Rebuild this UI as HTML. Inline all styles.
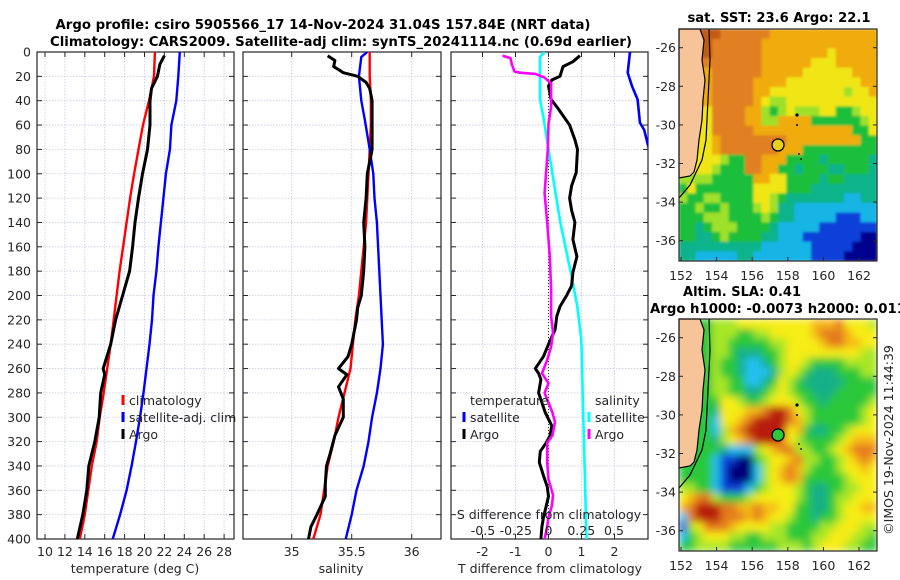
<!DOCTYPE html>
<html><head><meta charset="utf-8"><style>
html,body{margin:0;padding:0;background:#fff;}
svg{display:block;font-family:"DejaVu Sans","Liberation Sans",sans-serif;}
</style></head><body>
<svg id="fig" width="900" height="580" viewBox="0 0 900 580" xmlns="http://www.w3.org/2000/svg">
<text x="323" y="29" text-anchor="middle" font-weight="bold" font-size="13" textLength="535" lengthAdjust="spacingAndGlyphs" fill="#000">Argo profile: csiro 5905566_17 14-Nov-2024 31.04S 157.84E (NRT data)</text>
<text x="341" y="46" text-anchor="middle" font-weight="bold" font-size="13" textLength="582" lengthAdjust="spacingAndGlyphs" fill="#000">Climatology: CARS2009. Satellite-adj clim: synTS_20241114.nc (0.69d earlier)</text>
<g id="layer"></g>
</svg>
<script>
// ---------- panel 1: temperature ----------
const depthStd = [0,20,40,60,80,100,120,140,160,180,200,220,240,260,280,300,320,340,360,380,400];
const climT = [21.05,20.95,20.45,19.85,19.4,18.95,18.55,18.2,17.85,17.5,17.2,16.9,16.6,16.25,15.9,15.5,15.2,14.7,14.35,14.0,13.5];
const satT = [23.55,23.4,23.2,22.7,22.55,22.15,21.9,21.65,21.4,21.2,20.9,20.75,20.5,20.2,19.9,19.55,19.15,18.7,18.2,17.55,16.8];
const argoTDepth = [3,10,20,30,40,60,80,100,120,140,160,180,200,220,240,260,265,280,300,320,340,360,380,400];
const argoT = [22.0,21.55,21.3,20.7,20.55,20.55,20.3,19.8,19.4,19.05,18.8,18.5,17.8,17.1,16.6,15.85,16.0,15.6,15.45,15.0,14.4,14.2,13.8,13.25];
const tTicks = [10,12,14,16,18,20,22,24,26,28];
const depthTicks = [0,20,40,60,80,100,120,140,160,180,200,220,240,260,280,300,320,340,360,380,400];
// ---------- panel 2: salinity ----------
const climS = [35.65,35.65,35.66,35.66,35.65,35.64,35.63,35.62,35.6,35.58,35.56,35.53,35.51,35.49,35.44,35.39,35.35,35.3,35.27,35.24,35.18];
const satSDepth = [0,4,20,40,56,80,100,120,140,160,180,200,220,240,260,280,300,320,340,360,380,400];
const satS = [35.63,35.58,35.56,35.58,35.61,35.65,35.68,35.69,35.71,35.72,35.73,35.74,35.75,35.76,35.74,35.71,35.67,35.64,35.6,35.54,35.5,35.45];
const argoSDepth = [3,7,12,15,17,20,25,30,40,60,80,100,120,140,160,180,200,210,220,240,250,260,265,275,285,300,315,330,340,355,365,380,390,400];
const argoS = [35.3,35.36,35.35,35.4,35.43,35.55,35.62,35.65,35.67,35.67,35.67,35.63,35.62,35.6,35.61,35.6,35.58,35.55,35.54,35.5,35.47,35.39,35.46,35.39,35.43,35.43,35.36,35.32,35.29,35.28,35.28,35.21,35.16,35.14];
const sTicks = [35,35.5,36];
// ---------- panel 3: differences ----------
const dTArgoDepth = [3,8,12,20,23,28,39,45,60,72,80,99,110,120,130,140,154,168,181,192,200,209,217,228,240,250,260,264,269,280,296,307,315,321,328,337,348,357,365,373,382,390,400];
const dTArgo = [0.95,0.74,0.44,0.35,0.1,0,0.08,0.25,0.64,0.8,0.88,0.84,0.7,0.64,0.7,0.8,0.74,0.86,0.74,0.7,0.55,0.35,0.25,0.2,0,-0.15,-0.4,-0.3,-0.23,-0.3,-0.1,0.1,0.05,-0.07,-0.25,-0.28,-0.15,-0.04,0,-0.07,-0.15,-0.2,-0.23];
const dTSatDepth = [0,17,28,39,58,64,75,90,120,200,300,400];
const dTSat = [2.47,2.4,2.53,2.7,2.77,2.9,3.0,3.15,3.35,3.7,4.05,3.3];
const dSArgoDepth = [3,5,10,16,17,18,21,26,45,59,80,116,140,168,195,217,231,242,253,264,272,280,296,304,315,321,337,351,364,373,382,390,400];
const dSArgo = [-0.35,-0.29,-0.28,-0.26,-0.22,-0.1,-0.03,0.02,0.02,0,-0.005,-0.03,-0.01,0.01,0.02,0.02,0.035,0.02,-0.01,-0.05,0,-0.03,0.03,0.05,0.03,-0.01,-0.01,0,0.035,0.025,0,-0.01,-0.03];
const dSSatDepth = [0,4,39,53,80,140,181,209,236,278,400];
const dSSat = [-0.03,-0.065,-0.065,-0.04,0,0.09,0.17,0.22,0.25,0.26,0.29];
const dTTicks = [-2,-1,0,1,2];
const dSTicks = [-0.5,-0.25,0,0.25,0.5];
const dSTickLabels = ["-0.5","-0.25","0","0.25","0.5"];
// ---------- maps ----------
const lonTicks = [152,154,156,158,160,162];
const latTicks = [-26,-28,-30,-32,-34,-36];
const sstGrid = [
"LLL998888887777777777777",
"LLL988888877777777777777",
"LLL988888877777777677777",
"LLL888888877777766677777",
"LLL788888877777666666777",
"LLL788888777766666666677",
"LLL788888776666666665667",
"LLL788888765566666666666",
"LLL688887754565556644566",
"LLL688887755777744444456",
"LLL688888777777777777446",
"LLL678888888877777777744",
"LLL678888888777444444444",
"LLL665448877744443444443",
"LLL654448877443444334443",
"LLL544444776644443443333",
"L64444444666644433333333",
"544554444665433333332233",
"445445444565332222222222",
"444555444454332222211122",
"443455544443222221111111",
"443345444433222111111100",
"333333333322222211111000",
"332222233222222211110000"];
const slaGrid = [
"LLL455566666666677786665",
"LLL455544556666678887666",
"LLL455444445566667887766",
"LLL455433344566666666655",
"LLL454432234566544445555",
"LLL454432223565433344455",
"LLL455442234654333334444",
"LLL455443345654433344444",
"LLL446654456665443444445",
"LLL436667789986544444456",
"LLL426678999987544444456",
"LLL425789999967433445666",
"LLL435678999865444456777",
"LLL443222567885544567888",
"LLL421100456678554456787",
"LL4421000256787544456676",
"L44421000256787444445666",
"554421112456665433445566",
"678854445666665433455666",
"789998877877664433456677",
"289998887876654434456666",
"156888766665544445566655",
"245666554455544455666554",
"445555444444555456665544"];
const argoLon = 157.84, argoLat = -31.04;

const NS = "http://www.w3.org/2000/svg";
const layer = document.getElementById('layer');
function mk(tag, attrs, parent){ const e=document.createElementNS(NS,tag); for(const k in attrs) e.setAttribute(k,attrs[k]); (parent||layer).appendChild(e); return e; }
function txt(x,y,s,anchor,size,parent){ const t=mk('text',{x:x,y:y,'text-anchor':anchor||'middle','font-size':size||12.5,fill:'#262626'},parent); t.textContent=s; return t; }

const Y0=52, Y1=539;
const yD = d => Y0 + d*(Y1-Y0)/400;
const xT = t => 45 + (t-10)*9.95;
const xS = s => 291.7 + (s-35)*120;
const xDT = v => 548.5 + v*33;
const xDS = v => 548.5 + v*131;
const panels = [{x0:37,x1:234,name:'temperature-panel'},{x0:243,x1:441,name:'salinity-panel'},{x0:451,x1:648,name:'difference-panel'}];

const defs = mk('defs',{});
panels.forEach((p,i)=>{ const c=mk('clipPath',{id:'clip'+i},defs); mk('rect',{x:p.x0,y:Y0,width:p.x1-p.x0,height:Y1-Y0},c); });
[29,319].forEach((t,i)=>{ const c=mk('clipPath',{id:'mclip'+i},defs); mk('rect',{x:679,y:t,width:198,height:232},c); });
const f1=mk('filter',{id:'blurSST',x:'-5%',y:'-5%',width:'110%',height:'110%'},defs); mk('feGaussianBlur',{stdDeviation:1.2,edgeMode:'duplicate'},f1);
const f2=mk('filter',{id:'blurSLA',x:'-5%',y:'-5%',width:'110%',height:'110%'},defs); mk('feGaussianBlur',{stdDeviation:4,edgeMode:'duplicate'},f2);

function panelFrame(p, xs, xf, idx){
  const g = mk('g',{});
  
  
  depthTicks.forEach(d=>{ const l=mk('line',{x1:p.x0,x2:p.x1,y1:yD(d),y2:yD(d),stroke:'#c5c9e6','stroke-width':0.8,'stroke-dasharray':'1.5,1.5'},g);   });
  xs.forEach(v=>{ const l=mk('line',{x1:xf(v),x2:xf(v),y1:Y0,y2:Y1,stroke:'#c5c9e6','stroke-width':0.8,'stroke-dasharray':'1.5,1.5'},g);   });
  return g;
}
function panelBorder(p, xs, xf, g){
  depthTicks.forEach(d=>{ mk('line',{x1:p.x0,x2:p.x0+5,y1:yD(d),y2:yD(d),stroke:'#262626'},g); mk('line',{x1:p.x1-5,x2:p.x1,y1:yD(d),y2:yD(d),stroke:'#262626'},g); });
  xs.forEach(v=>{ mk('line',{x1:xf(v),x2:xf(v),y1:Y1-5,y2:Y1,stroke:'#262626'},g); mk('line',{x1:xf(v),x2:xf(v),y1:Y0,y2:Y0+5,stroke:'#262626'},g); });
  const r=mk('rect',{x:p.x0,y:Y0,width:p.x1-p.x0,height:Y1-Y0,fill:'none',stroke:'#262626','stroke-width':1.2},g);
   
}
function line(xf, depths, vals, color, w, idx, name){
  const pts = depths.map((d,i)=>xf(vals[i]).toFixed(1)+','+yD(d).toFixed(1)).join(' ');
  const pl = mk('polyline',{points:pts,fill:'none',stroke:color,'stroke-width':w,'stroke-linejoin':'round','clip-path':'url(#clip'+idx+')'});
  
  
}
function legend(x, y, color, label){
  const g=mk('g',{});
  
  
  mk('line',{x1:x,x2:x,y1:y-10,y2:y,stroke:color,'stroke-width':3},g);
  txt(x+6,y,label,'start',12.5,g);
}

// panel 1
let g1 = panelFrame(panels[0], tTicks, xT, 0);
line(xT, depthStd, climT, '#ff0000', 2.4, 0, 'climatology-temperature-line');
line(xT, depthStd, satT, '#0000ff', 2.4, 0, 'satellite-temperature-line');
line(xT, argoTDepth, argoT, '#000000', 3, 0, 'argo-temperature-line');
panelBorder(panels[0], tTicks, xT, g1);
depthTicks.forEach(d=>{ const t=txt(31,yD(d)+4.5,String(d),'end');   });
tTicks.forEach(v=>{ const t=txt(xT(v),556,String(v));   });
let at=txt(135,573,'temperature (deg C)');  
legend(123,405,'#ff0000','climatology');
legend(123,422,'#0000ff','satellite-adj. clim');
legend(123,439,'#000000','Argo');

// panel 2
let g2 = panelFrame(panels[1], sTicks, xS, 1);
line(xS, depthStd, climS, '#ff0000', 2.4, 1, 'climatology-salinity-line');
line(xS, satSDepth, satS, '#0000ff', 2.4, 1, 'satellite-salinity-line');
line(xS, argoSDepth, argoS, '#000000', 3, 1, 'argo-salinity-line');
panelBorder(panels[1], sTicks, xS, g2);
sTicks.forEach(v=>{ const t=txt(xS(v),556,String(v));   });
let as=txt(341,573,'salinity');  

// panel 3
let g3 = panelFrame(panels[2], dTTicks, xDT, 2);
let zl=mk('line',{x1:xDT(0),x2:xDT(0),y1:Y0,y2:Y1,stroke:'#333','stroke-width':1,'stroke-dasharray':'1,2'});
 
line(xDS, dSSatDepth, dSSat, '#00ffff', 2.6, 2, 'satellite-salinity-difference-line');
line(xDT, dTSatDepth, dTSat, '#0000ff', 2.6, 2, 'satellite-temperature-difference-line');
line(xDT, dTArgoDepth, dTArgo, '#000000', 3, 2, 'argo-temperature-difference-line');
line(xDS, dSArgoDepth, dSArgo, '#ff00ff', 2.6, 2, 'argo-salinity-difference-line');
panelBorder(panels[2], dTTicks, xDT, g3);
dTTicks.forEach(v=>{ const t=txt(xDT(v),556,String(v));   });
dSTicks.forEach((v,i)=>{ const t=txt(xDS(v),535,dSTickLabels[i],'middle',12.5);   });
let sdt=txt(549,519,'S difference from climatology');  
let tdt=txt(550,573,'T difference from climatology');  
let lt=txt(470,405,'temperature','start');  
let ls=txt(595,405,'salinity','start');  
legend(464,422,'#0000ff','satellite');
legend(464,439,'#000000','Argo');
legend(589,422,'#00ffff','satellite');
legend(589,439,'#ff00ff','Argo');

// ---------- maps ----------
const MX0=679, MX1=877, MH=232;
const pal = {'0':'#00008f','1':'#0a3fd8','2':'#19b5e6','3':'#10b38a','4':'#1fbf3a','5':'#9ee02a','6':'#f0e614','7':'#f0ab0a','8':'#e08020','9':'#c25a18','L':'#f7c49a'};
const pal2 = {'0':'#00007a','1':'#0a3fd8','2':'#20c0ee','3':'#16b088','4':'#2cc83a','5':'#a8e628','6':'#f6ec18','7':'#f5b818','8':'#e47a1e','9':'#b81e10','L':'#f7c49a'};
const xLon = lon => 681 + (lon-152)*17.8;
function drawMap(top, grid, palette, mapName, idx, filt){
  const g=mk('g',{});
  
  
  const rows=grid.length, cols=grid[0].length;
  const cw=(MX1-MX0)/cols, rh=MH/rows;
  const clipG=mk('g',{'clip-path':'url(#mclip'+idx+')'},g);
  const cg=mk('g',{filter:'url(#'+filt+')'},clipG);
  
  
  grid.forEach((row,r)=>{ for(let c=0;c<cols;c++){
    let code=row[c]; if(code==='L'){ code=row[3]==='L'?'4':row[3]; }
    const cell=mk('rect',{x:(MX0+c*cw).toFixed(2),y:(top+r*rh).toFixed(2),width:(cw+0.4).toFixed(2),height:(rh+0.4).toFixed(2),fill:palette[code]},cg);
    
    
  }});
  const o=top-29;
  const land=mk('polygon',{points:[[679,29],[700,29],[704,40],[702,60],[705,80],[703,100],[702,120],[699,140],[697,160],[694,172],[690,176],[679,178]].map(p=>p[0]+','+(p[1]+o)).join(' '),fill:'#f7c49a',stroke:'#000','stroke-width':1.2},g);
   
  const iso=mk('polyline',{points:[[709,29],[710,60],[708,100],[706,140],[702,160],[690,185],[679,198]].map(p=>p[0]+','+(p[1]+o)).join(' '),fill:'none',stroke:'#000','stroke-width':1.2},g);
   
  [[797,115,1.6],[797,125,1],[799,154,0.9],[801,159,0.9]].forEach(p=>{ const d=mk('circle',{cx:p[0],cy:p[1]+o,r:p[2],fill:'#000'},g);   });
  const latY = lat => top + 18.7 + (-26-lat)*19.3;
  const mk2=mk('circle',{cx:778,cy:latY(argoLat).toFixed(1),r:6,fill:idx===0?'#e6d21a':'#2cc83a',stroke:'#000','stroke-width':1.3},g);
   
  const fr=mk('rect',{x:MX0,y:top,width:MX1-MX0,height:MH,fill:'none',stroke:'#262626','stroke-width':1.2},g);
   
  lonTicks.forEach(v=>{ mk('line',{x1:xLon(v),x2:xLon(v),y1:top+MH-4,y2:top+MH,stroke:'#262626'},g);
    const t=txt(xLon(v),top+MH+19,String(v),'middle',12.5,g);   });
  latTicks.forEach(v=>{ mk('line',{x1:MX0,x2:MX0+4,y1:latY(v),y2:latY(v),stroke:'#262626'},g); mk('line',{x1:MX1-4,x2:MX1,y1:latY(v),y2:latY(v),stroke:'#262626'},g);
    const t=txt(676,latY(v)+4.5,String(v),'end',12.5,g);   });
}
drawMap(29, sstGrid, pal, 'sst-map', 0, 'blurSST');
drawMap(319, slaGrid, pal2, 'sla-map', 1, 'blurSLA');
function btitle(x,y,s,anchor,name,len){ const t=mk('text',{x:x,y:y,'text-anchor':anchor,'font-weight':'bold','font-size':13,fill:'#000'}); if(len){t.setAttribute('textLength',len);t.setAttribute('lengthAdjust','spacingAndGlyphs');} t.textContent=s;   }
btitle(779,22,'sat. SST: 23.6 Argo: 22.1','middle','sst-map-title',183);
btitle(683,296,'Altim. SLA: 0.41','start','sla-map-title',118);
btitle(650,313,'Argo h1000: -0.0073 h2000: 0.011','start','argo-height-title',256);
const cp=mk('text',{x:0,y:0,'font-size':12.5,fill:'#262626','text-anchor':'middle',transform:'translate(893,440) rotate(-90)'});
cp.textContent='©IMOS 19-Nov-2024 11:44:39';


</script>
</body></html>
